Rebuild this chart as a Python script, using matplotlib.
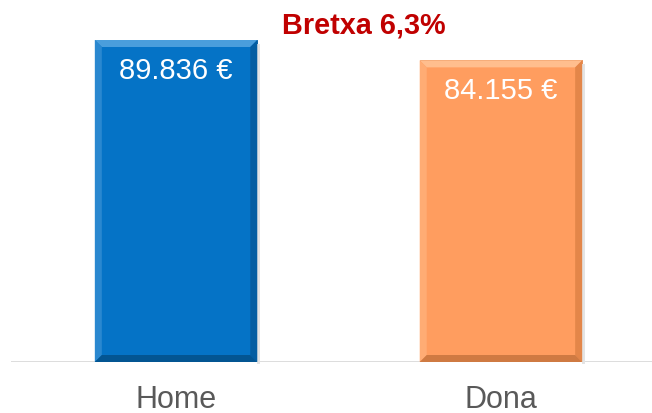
import matplotlib
matplotlib.use("Agg")
import matplotlib.pyplot as plt
from matplotlib.patches import Polygon
from matplotlib.transforms import IdentityTransform

categories = ["Home", "Dona"]
values = [89836, 84155]
value_labels = ["89.836 €", "84.155 €"]
title = "Bretxa 6,3%"

main_colors = ["#0573C6", "#FF9D5F"]
bevel_colors = [
    # top, left, right, bottom
    ["#4A9EDC", "#2A88D0", "#045EA2", "#035592"],
    ["#FFBE8E", "#FFAC74", "#E38649", "#CF7A42"],
]

plt.rcParams['font.family'] = ['Liberation Sans', 'DejaVu Sans']

W, H = 652, 414
fig = plt.figure(figsize=(W / 100, H / 100), dpi=100)
base_px = 363
left_px, right_px = 11, 666
ax = fig.add_axes([left_px / W, (H - base_px) / H, (right_px - left_px) / W, base_px / H])
ax.set_xlim(-0.508, 1.508)
ax.set_ylim(0, values[0] * base_px / 322)

x = list(range(len(categories)))
bars = ax.bar(x, values, width=0.5, color=main_colors, zorder=2,
              edgecolor=[c[2] for c in bevel_colors], linewidth=0.6)

ax.axhline(0, color="#D9D9D9", lw=2, zorder=1)

for spine in ax.spines.values():
    spine.set_visible(False)
ax.set_yticks([])
ax.set_xticks(x)
ax.set_xticklabels(categories, fontsize=22, color="#595959")
ax.tick_params(axis='x', length=0, pad=16)

fig.canvas.draw()
b = 7
for bar, cols in zip(bars, bevel_colors):
    x0, y0 = bar.get_x(), bar.get_y()
    x1, y1 = x0 + bar.get_width(), y0 + bar.get_height()
    (px0, py0) = ax.transData.transform((x0, y0))
    (px1, py1) = ax.transData.transform((x1, y1))
    # soft shadow on the right
    fig.patches.append(Polygon([(px1, py0 - 2), (px1 + 3, py0 - 2), (px1 + 3, py1 - 4), (px1, py1 - 4)],
                               closed=True, facecolor="#E4E4E4", edgecolor='none',
                               transform=IdentityTransform(), figure=fig, zorder=1))
    polys = [
        [(px0, py1), (px1, py1), (px1 - b, py1 - b), (px0 + b, py1 - b)],  # top
        [(px0, py0), (px0, py1), (px0 + b, py1 - b), (px0 + b, py0 + b)],  # left
        [(px1, py0), (px1, py1), (px1 - b, py1 - b), (px1 - b, py0 + b)],  # right
        [(px0, py0), (px1, py0), (px1 - b, py0 + b), (px0 + b, py0 + b)],  # bottom
    ]
    for p, c in zip(polys, cols):
        fig.patches.append(Polygon(p, closed=True, facecolor=c, edgecolor='none',
                                   transform=IdentityTransform(), figure=fig, zorder=3))

for xi, v, lab in zip(x, values, value_labels):
    ax.annotate(lab, (xi, v), xytext=(0, -21.6), textcoords="offset points",
                ha="center", va="center", color="white", fontsize=21, zorder=5)

fig.text(364 / W, 1 - 25 / H, title, ha="center", va="center", fontsize=20.8,
         fontweight="bold", color="#C00000")

fig.savefig("out.png", dpi=100)
